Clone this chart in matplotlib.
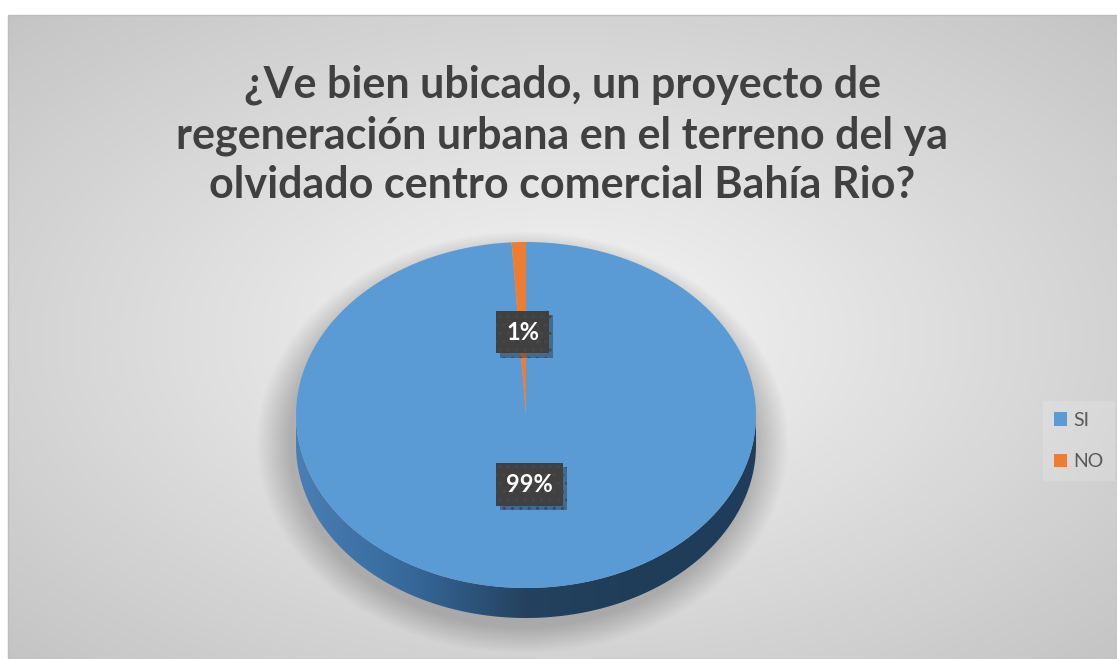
import numpy as np
import matplotlib
matplotlib.use('Agg')
import matplotlib.pyplot as plt
from matplotlib.patches import Polygon, Rectangle
from matplotlib.colors import LinearSegmentedColormap
import matplotlib.patheffects as pe

# datos de la encuesta
categorias = ['SI', 'NO']
respuestas = [99, 1]
colores = ['#5b9bd5', '#ed7d31']
titulo = ('¿Ve bien ubicado, un proyecto de\n'
          'regeneración urbana en el terreno del ya\n'
          'olvidado centro comercial Bahía Rio?')

W, H = 1117, 659
fig = plt.figure(figsize=(W / 100, H / 100), dpi=100)
fig.patch.set_facecolor('white')

# --- fondo (coordenadas en pixeles) ---
bg = fig.add_axes([0, 0, 1, 1])
x0, y0 = 8, 15
xx, yy = np.meshgrid(np.linspace(x0, W, 400), np.linspace(y0, H, 240))
cx, cy = (x0 + W) / 2, (y0 + H) / 2
r = np.sqrt(((xx - cx) / ((W - x0) / 2)) ** 2 + ((yy - cy) / ((H - y0) / 2)) ** 2) / np.sqrt(2)
val = 0.965 + (0.77 - 0.965) * np.clip(r, 0, 1)
bg.imshow(np.dstack([val, val, val]), extent=(x0, W, H, y0), aspect='auto',
          interpolation='bilinear', zorder=0)
bg.add_patch(Rectangle((x0, y0), W - x0, H - y0, fill=False, ec='#bdbdbd', lw=1, zorder=1))

# sombra bajo el pastel
sx, sy = np.meshgrid(np.arange(250, 810), np.arange(230, 659))
d = np.sqrt(((sx - 522) / 242) ** 2 + ((sy - 442) / 192) ** 2)
sombra = np.zeros(sx.shape + (4,))
sombra[..., :3] = 0.45
sombra[..., 3] = 0.45 * np.clip((1.10 - d) / 0.14, 0, 1)
bg.imshow(sombra, extent=(250, 810, 659, 230), aspect='auto', interpolation='bilinear', zorder=2)

bg.text((x0 + W) / 2, 135, titulo, ha='center', va='center', fontsize=31,
        fontweight='bold', family='Lato', color='#404040', linespacing=1.3, zorder=3)
bg.set_xlim(0, W)
bg.set_ylim(H, 0)
bg.axis('off')

# --- pastel (elipse: centro 526,415 px, rx 230, ry 173) ---
pa = fig.add_axes([0, 0, 1, 1])
pa.patch.set_alpha(0)
pcx, pcy, rx, ry = 526, 415, 230, 173
prof = 30 / ry

# lateral del cilindro
t = np.linspace(np.pi, 2 * np.pi, 300)
borde = np.column_stack([np.concatenate([np.cos(t), np.cos(t[::-1])]),
                         np.concatenate([np.sin(t), np.sin(t[::-1]) - prof])])
lado = Polygon(borde, closed=True, fc='none', ec='none')
pa.add_patch(lado)
cmap_lado = LinearSegmentedColormap.from_list('lado', ['#4a7fb5', '#36689a', '#24425f', '#1f3c59', '#1f3d5b'])
grad = np.linspace(0, 1, 256).reshape(1, -1)
im = pa.imshow(grad, cmap=cmap_lado, extent=(-1, 1, -1 - prof, 0), aspect='auto', zorder=0.5)
im.set_clip_path(lado)

wedges, textos, pcts = pa.pie(respuestas, colors=colores, startangle=90, counterclock=False,
                              autopct='%1.0f%%', pctdistance=0.48,
                              wedgeprops=dict(linewidth=0),
                              textprops=dict(color='white', fontsize=17, fontweight='bold',
                                             family='Lato'))
px_, py_ = pcts[0].get_position()
pcts[0].set_position((px_, py_ + 0.08))
for p in pcts:
    p.set_zorder(5)
    p.set_bbox(dict(boxstyle='square,pad=0.42', fc='#404040', ec='#474747', lw=0, hatch='..'))
    p.get_bbox_patch().set_path_effects([pe.withSimplePatchShadow(offset=(3, -3), alpha=0.35)])

pa.set_aspect('auto')
pa.set_xlim(-pcx / rx, (W - pcx) / rx)
pa.set_ylim((pcy - H) / ry, pcy / ry)
pa.axis('off')

# leyenda
fig.legend(wedges, categorias, loc='center left', bbox_to_anchor=(1043 / W, 1 - 441 / H),
           prop=dict(family='Lato', size=14), labelcolor='#595959', frameon=True,
           facecolor='white', framealpha=0.15, edgecolor='none', fancybox=False,
           handlelength=0.68, handleheight=0.68, handletextpad=0.35, labelspacing=1.25,
           borderpad=0.55, borderaxespad=0)

fig.savefig('out.png', dpi=100)
